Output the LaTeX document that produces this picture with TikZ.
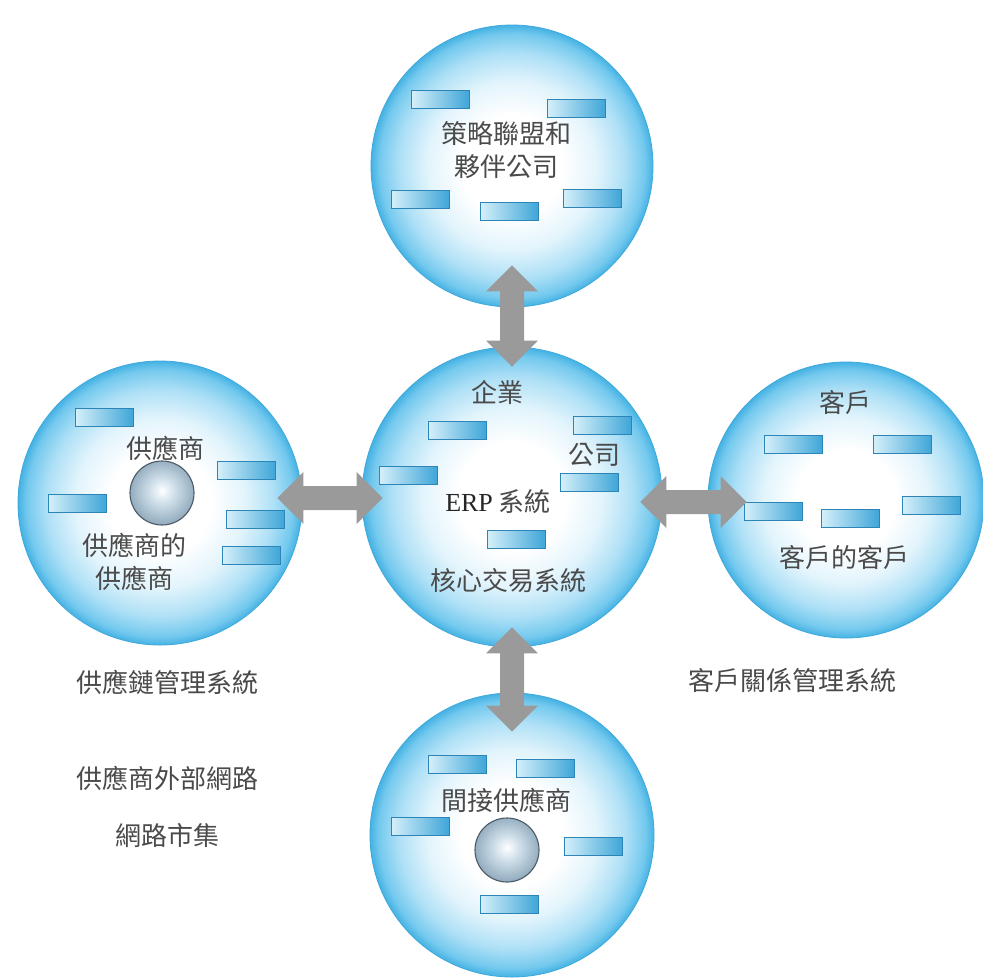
\documentclass[tikz,border=0pt]{standalone}
\usepackage{fontspec}
\newfontfamily\cjk{Noto Sans CJK TC}
\newfontfamily\erpfont{Liberation Serif}
\usetikzlibrary{calc}
\definecolor{bubB}{HTML}{E2F4FC}
\definecolor{bubC}{HTML}{AEE0F6}
\definecolor{bubD}{HTML}{74C9EE}
\definecolor{bubE}{HTML}{45B2E3}
\definecolor{rimc}{HTML}{3EA9DC}
\definecolor{ballB}{HTML}{D3E2EC}
\definecolor{ballC}{HTML}{94ADBF}
\definecolor{ballrim}{HTML}{4C5A66}
\definecolor{rectA}{HTML}{D6F0FA}
\definecolor{rectD}{HTML}{3FA6D8}
\definecolor{rectE}{HTML}{2C85B6}
\definecolor{arrowgrey}{HTML}{9A9A9A}
\definecolor{txt}{HTML}{4A4A4A}
\pgfdeclareradialshading{bubble}{\pgfpoint{0bp}{0bp}}{color(0bp)=(white); color(9bp)=(white); color(15bp)=(bubB); color(20bp)=(bubC); color(23.5bp)=(bubD); color(25bp)=(bubE); color(50bp)=(bubE)}
\pgfdeclareradialshading{ballshade}{\pgfpoint{0bp}{2bp}}{color(0bp)=(white); color(9bp)=(ballB); color(25bp)=(ballC); color(50bp)=(ballC)}
\newcommand{\vdblarrow}[2]{\fill[arrowgrey] let \p1=(#1), \p2=(#2) in (\x1,\y1) -- (\x1+26pt,\y1-26pt) -- (\x1+12pt,\y1-26pt) -- (\x1+12pt,\y2+26pt) -- (\x1+26pt,\y2+26pt) -- (\x1,\y2) -- (\x1-26pt,\y2+26pt) -- (\x1-12pt,\y2+26pt) -- (\x1-12pt,\y1-26pt) -- (\x1-26pt,\y1-26pt) -- cycle;}
\newcommand{\hdblarrow}[2]{\fill[arrowgrey] let \p1=(#1), \p2=(#2) in (\x1,\y1) -- (\x1+26pt,\y1+26pt) -- (\x1+26pt,\y1+12pt) -- (\x2-26pt,\y1+12pt) -- (\x2-26pt,\y1+26pt) -- (\x2,\y1) -- (\x2-26pt,\y1-26pt) -- (\x2-26pt,\y1-12pt) -- (\x1+26pt,\y1-12pt) -- (\x1+26pt,\y1-26pt) -- cycle;}
\tikzset{
  bubble/.style={circle, draw=rimc, line width=0.8pt, shade, shading=bubble, inner sep=0pt, minimum size=#1},
  mbox/.style={draw=rectE, line width=0.7pt, left color=rectA, right color=rectD, minimum width=58pt, minimum height=18pt, inner sep=0pt},
  ball/.style={circle, draw=ballrim, line width=1.1pt, shade, shading=ballshade, inner sep=0pt, minimum size=64pt},
  lbl/.style={font=\cjk\fontsize{26}{33}\selectfont, text=txt, inner sep=0pt, align=center},
}
\begin{document}
\begin{tikzpicture}[x=1pt,y=-1pt]
\useasboundingbox[fill=white] (0,0) rectangle (983,978);
% bubbles
\node[bubble=282pt] (ntop) at (512,166) {};
\node[bubble=300pt] (ncore) at (512,497) {};
\node[bubble=284pt] (nsup) at (160,503) {};
\node[bubble=276pt] (ncust) at (846,500) {};
\node[bubble=284pt] (nbot) at (512,835) {};
% boxes top
\node[mbox] (t1) at (440,99) {};
\node[mbox] (t2) at (576,108) {};
\node[mbox] (t3) at (420,199) {};
\node[mbox] (t4) at (509,211) {};
\node[mbox] (t5) at (592,198) {};
% boxes core
\node[mbox] (c1) at (457,430) {};
\node[mbox] (c2) at (602,425) {};
\node[mbox] (c3) at (408,475) {};
\node[mbox] (c4) at (589,482) {};
\node[mbox] (c5) at (516,539) {};
% boxes supplier
\node[mbox] (s1) at (104,417) {};
\node[mbox] (s2) at (246,470) {};
\node[mbox] (s3) at (77,503) {};
\node[mbox] (s4) at (255,519) {};
\node[mbox] (s5) at (251,555) {};
% boxes customer
\node[mbox] (k1) at (793,444) {};
\node[mbox] (k2) at (902,444) {};
\node[mbox] (k3) at (773,511) {};
\node[mbox] (k4) at (850,518) {};
\node[mbox] (k5) at (931,505) {};
% boxes bottom
\node[mbox] (b1) at (457,764) {};
\node[mbox] (b2) at (545,768) {};
\node[mbox] (b3) at (420,826) {};
\node[mbox] (b4) at (593,846) {};
\node[mbox] (b5) at (509,904) {};
% balls
\node[ball] (supball) at (162,493) {};
\node[ball] (botball) at (507,850) {};
% labels
\node[lbl] (l1) at (506,150) {策略聯盟和\\夥伴公司};
\node[lbl] (l2) at (497,392) {企業};
\node[lbl] (l3) at (594,455) {公司};
\node[lbl] (l4) at (498,502) {{\erpfont\color{black!85}ERP} 系統};
\node[lbl] (l5) at (508,581) {核心交易系統};
\node[lbl] (l6) at (165,448) {供應商};
\node[lbl] (l7) at (134,562) {供應商的\\供應商};
\node[lbl] (l8) at (845,403) {客戶};
\node[lbl] (l9) at (844,558) {客戶的客戶};
\node[lbl] (l10) at (506,800) {間接供應商};
\node[lbl] (l11) at (167,682) {供應鏈管理系統};
\node[lbl] (l12) at (167,778) {供應商外部網路};
\node[lbl] (l13) at (167,836) {網路市集};
\node[lbl] (l14) at (792,680) {客戶關係管理系統};
% arrows
\coordinate (a1) at ($(ntop.south)+(0,-42)$);
\coordinate (a2) at ($(ncore.north)+(0,20)$);
\coordinate (a3) at ($(ncore.south)+(0,-20)$);
\coordinate (a4) at ($(nbot.north)+(0,39)$);
\coordinate (a5) at ($(nsup.east |- ncore.center)+(-25,1)$);
\coordinate (a6) at ($(ncore.west)+(21,1)$);
\coordinate (a7) at ($(ncore.east)+(-22,5)$);
\coordinate (a8) at ($(ncust.west |- ncore.center)+(39,5)$);
\vdblarrow{a1}{a2}
\vdblarrow{a3}{a4}
\hdblarrow{a5}{a6}
\hdblarrow{a7}{a8}
\end{tikzpicture}
\end{document}
